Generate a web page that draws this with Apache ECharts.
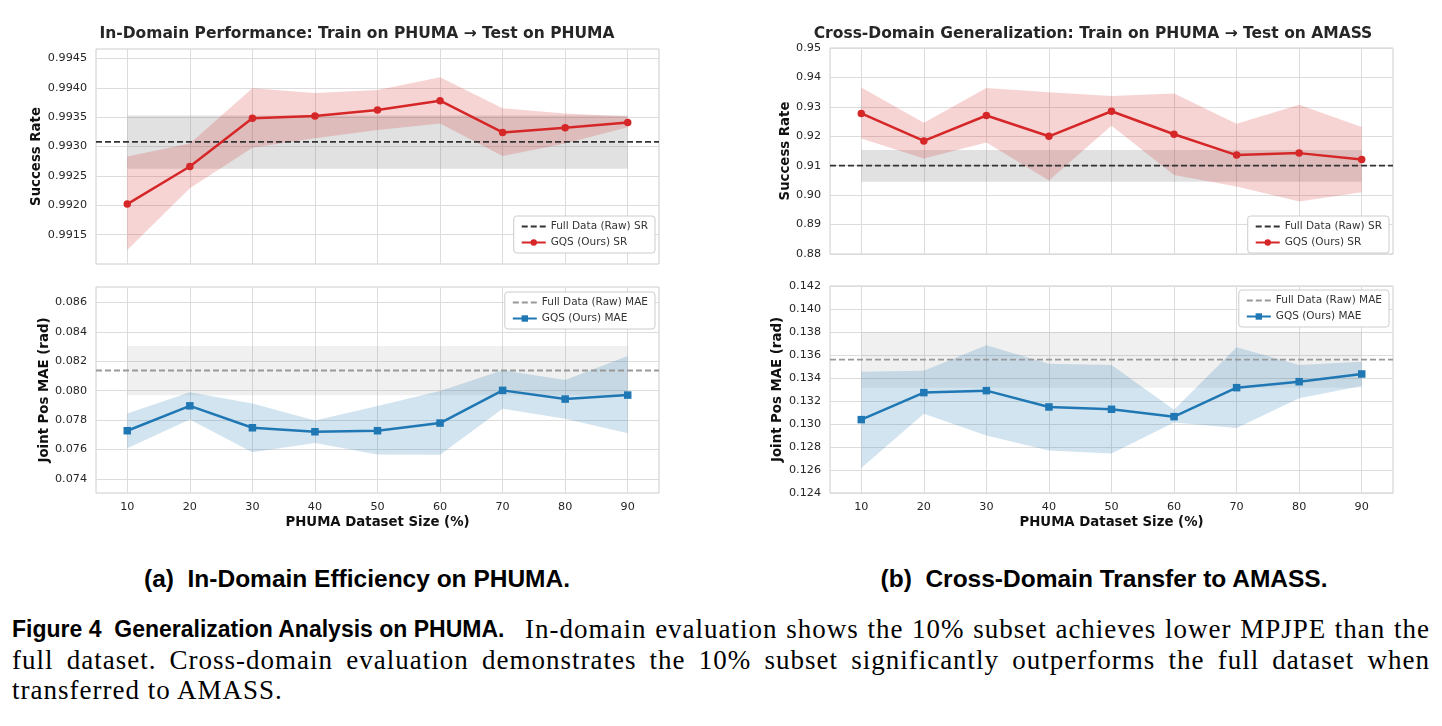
<!DOCTYPE html>
<html>
<head>
<meta charset="utf-8">
<script src="https://cdn.jsdelivr.net/npm/echarts@6/dist/echarts.min.js"></script>
<style>
body { margin: 0; background: #fff; width: 1442px; height: 726px; overflow: hidden; position: relative; }
#chart { position: absolute; left: 0; top: 0; width: 1442px; height: 545px; }
.sub { position: absolute; top: 565px; transform: translateX(-50%); white-space: nowrap;
       font-family: "Liberation Sans", sans-serif; font-weight: bold; font-size: 24.5px; color: #000; }
.cap { position: absolute; left: 12px; width: 1418px; top: 614px; color: #000;
       font-family: "Liberation Serif", serif; font-size: 27px; letter-spacing: 1px; }
.cap > div { height: 30.5px; line-height: 30.5px; white-space: nowrap; }
.cap .j { text-align: justify; text-align-last: justify; }
.cap .l1 { display: flex; }
.cap .lead { flex: none; width: 513px; font-family: "Liberation Sans", sans-serif; font-weight: bold;
             font-size: 23px; letter-spacing: 0; }
.cap .rest { flex: 1; text-align: justify; text-align-last: justify; }
</style>
</head>
<body>
<div id="chart"></div>
<div class="sub" style="left:357px">(a)&nbsp; In-Domain Efficiency on PHUMA.</div>
<div class="sub" style="left:1104px">(b)&nbsp; Cross-Domain Transfer to AMASS.</div>
<div class="cap">
    <div class="l1"><span class="lead">Figure 4&nbsp; Generalization Analysis on PHUMA.</span><span class="rest">In-domain evaluation shows the 10% subset achieves lower MPJPE than the</span></div>
    <div class="j">full dataset. Cross-domain evaluation demonstrates the 10% subset significantly outperforms the full dataset when</div>
    <div>transferred to AMASS.</div>
</div>
<script>
// dataset sizes (%)
const sizes = [10, 20, 30, 40, 50, 60, 70, 80, 90];

// (a) in-domain, success rate
const inSrMean = [0.99202, 0.99266, 0.99348, 0.99352, 0.99362, 0.99378, 0.99324, 0.99332, 0.99341];
const inSrHigh = [0.99283, 0.99305, 0.99399, 0.99391, 0.99396, 0.99418, 0.99365, 0.99356, 0.99351];
const inSrLow = [0.99124, 0.99229, 0.99298, 0.99314, 0.99328, 0.99339, 0.99284, 0.99305, 0.99333];
const inSrRaw = 0.99308;
const inSrRawBand = [0.99262, 0.99353];

// (a) in-domain, joint pos MAE
const inMaeMean = [0.07728, 0.07897, 0.07748, 0.07721, 0.07728, 0.07780, 0.08002, 0.07943, 0.07970];
const inMaeHigh = [0.07845, 0.07989, 0.07913, 0.07798, 0.07895, 0.07998, 0.08138, 0.08072, 0.08236];
const inMaeLow = [0.07609, 0.07805, 0.07582, 0.07644, 0.07566, 0.07564, 0.07877, 0.07809, 0.07710];
const inMaeRaw = 0.08137;
const inMaeRawBand = [0.07968, 0.08304];

// (b) cross-domain, success rate
const crSrMean = [0.92775, 0.91842, 0.92707, 0.92000, 0.92851, 0.92068, 0.91361, 0.91428, 0.91214];
const crSrHigh = [0.93662, 0.92459, 0.93640, 0.93500, 0.93365, 0.93455, 0.92425, 0.93068, 0.92312];
const crSrLow = [0.91921, 0.91248, 0.91786, 0.90496, 0.92357, 0.90688, 0.90293, 0.89786, 0.90101];
const crSrRaw = 0.9100;
const crSrRawBand = [0.90459, 0.91530];

// (b) cross-domain, joint pos MAE
const crMaeMean = [0.13038, 0.13273, 0.13290, 0.13148, 0.13128, 0.13064, 0.13316, 0.13368, 0.13435];
const crMaeHigh = [0.13455, 0.13464, 0.13684, 0.13524, 0.13513, 0.13125, 0.13667, 0.13513, 0.13542];
const crMaeLow = [0.12617, 0.13090, 0.12901, 0.12770, 0.12744, 0.13012, 0.12965, 0.13223, 0.13330];
const crMaeRaw = 0.13559;
const crMaeRawBand = [0.13316, 0.13800];

// tick labels
const inSrTicks = [0.9915, 0.9920, 0.9925, 0.9930, 0.9935, 0.9940, 0.9945];
const inMaeTicks = [0.074, 0.076, 0.078, 0.080, 0.082, 0.084, 0.086];
const crSrTicks = [0.88, 0.89, 0.90, 0.91, 0.92, 0.93, 0.94, 0.95];
const crMaeTicks = [0.124, 0.126, 0.128, 0.130, 0.132, 0.134, 0.136, 0.138, 0.140, 0.142];

const RED = '#d62728';
const BLUE = '#1f77b4';
const FONT = 'DejaVu Sans';
const xMin = 5, xMax = 95;

const myChart = echarts.init(document.getElementById('chart'));

const grids = [
    {left: 96, top: 49, width: 563, height: 215},
    {left: 96, top: 287, width: 563, height: 206},
    {left: 830, top: 48, width: 563, height: 206},
    {left: 830, top: 286, width: 563, height: 207}
];

function xAxis(gi, showLabel) {
    return {
        type: 'value', gridIndex: gi, min: xMin, max: xMax,
        axisLine: {show: false},
        axisTick: {show: false, customValues: sizes},
        axisLabel: {show: showLabel, customValues: sizes, color: '#262626', fontSize: 11.2, fontFamily: FONT, margin: 9},
        splitLine: {show: true, lineStyle: {color: '#dcdcdc', width: 1}},
        name: showLabel ? 'PHUMA Dataset Size (%)' : '',
        nameLocation: 'middle', nameGap: 23,
        nameTextStyle: {fontSize: 13.3, fontWeight: 'bold', color: '#111', fontFamily: FONT}
    };
}

function yAxis(gi, min, max, ticks, digits, name, gap) {
    return {
        type: 'value', gridIndex: gi, min: min, max: max,
        axisLine: {show: false},
        axisTick: {show: false, customValues: ticks},
        axisLabel: {
            customValues: ticks, color: '#262626', fontSize: 11.2, fontFamily: FONT, margin: 9,
            formatter: function (v) { return v.toFixed(digits); }
        },
        splitLine: {show: true, lineStyle: {color: '#dcdcdc', width: 1}},
        name: name, nameLocation: 'middle', nameRotate: 90, nameGap: gap,
        nameTextStyle: {fontSize: 13.3, fontWeight: 'bold', color: '#111', fontFamily: FONT}
    };
}

// filled band between low and high through the axis scales
function band(gi, xs, low, high, color, z) {
    return {
        type: 'custom', xAxisIndex: gi, yAxisIndex: gi, silent: true, z: z,
        data: [[xs[0], low[0]]],
        renderItem: function (params, api) {
            let pts = [];
            for (let i = 0; i < xs.length; i++) pts.push(api.coord([xs[i], high[i]]));
            for (let i = xs.length - 1; i >= 0; i--) pts.push(api.coord([xs[i], low[i]]));
            return {type: 'polygon', shape: {points: pts}, style: {fill: color}};
        }
    };
}

function rawLine(gi, name, value, color) {
    return {
        type: 'line', name: name, xAxisIndex: gi, yAxisIndex: gi, z: 3,
        data: [[xMin, value], [xMax, value]],
        symbol: 'none', silent: true,
        lineStyle: {color: color, width: 1.8, type: [6, 3]},
        itemStyle: {color: color}
    };
}

function meanLine(gi, name, values, color, symbol) {
    return {
        type: 'line', name: name, xAxisIndex: gi, yAxisIndex: gi, z: 4,
        data: sizes.map((x, i) => [x, values[i]]),
        symbol: symbol, symbolSize: 7.5, showSymbol: true,
        lineStyle: {color: color, width: 2.5},
        itemStyle: {color: color}
    };
}

function legend(rawName, oursName, right, top) {
    return {
        data: [{name: rawName, itemStyle: {opacity: 0}}, {name: oursName}],
        orient: 'vertical', right: right, top: top,
        backgroundColor: '#fff', borderColor: '#cccccc', borderWidth: 1, borderRadius: 3,
        padding: [5, 7, 5, 7], itemGap: 5, itemWidth: 24, itemHeight: 8,
        textStyle: {fontSize: 10.5, color: '#333', fontFamily: FONT}
    };
}

const ends = [sizes[0], sizes[sizes.length - 1]];

const option = {
    backgroundColor: '#fff',
    animation: false,
    title: [
        {text: 'In-Domain Performance: Train on PHUMA \u2192 Test on PHUMA', left: 357, top: 26, textAlign: 'center', padding: 0,
            textStyle: {fontSize: 15.5, fontWeight: 'bold', color: '#262626', fontFamily: FONT}},
        {text: 'Cross-Domain Generalization: Train on PHUMA \u2192 Test on AMASS', left: 1093, top: 26, textAlign: 'center', padding: 0,
            textStyle: {fontSize: 15.5, fontWeight: 'bold', color: '#262626', fontFamily: FONT}}
    ],
    grid: grids.map(g => Object.assign({
        show: true, backgroundColor: '#fff', borderColor: '#cccccc', borderWidth: 1,
        containLabel: false, outerBoundsMode: 'none'
    }, g)),
    xAxis: [xAxis(0, false), xAxis(1, true), xAxis(2, false), xAxis(3, true)],
    yAxis: [
        yAxis(0, 0.99100, 0.99466, inSrTicks, 4, 'Success Rate', 53),
        yAxis(1, 0.07305, 0.08704, inMaeTicks, 3, 'Joint Pos MAE (rad)', 43),
        yAxis(2, 0.88, 0.95, crSrTicks, 2, 'Success Rate', 37),
        yAxis(3, 0.124, 0.142, crMaeTicks, 3, 'Joint Pos MAE (rad)', 46)
    ],
    legend: [
        legend('Full Data (Raw) SR', 'GQS (Ours) SR', 1442 - 655, 216),
        legend('Full Data (Raw) MAE', 'GQS (Ours) MAE', 1442 - 655, 292),
        legend('Full Data (Raw) SR', 'GQS (Ours) SR', 1442 - 1389, 216),
        legend('Full Data (Raw) MAE', 'GQS (Ours) MAE', 1442 - 1389, 290)
    ],
    series: [
        band(0, ends, [inSrRawBand[0], inSrRawBand[0]], [inSrRawBand[1], inSrRawBand[1]], 'rgba(128,128,128,0.24)', 1),
        band(0, sizes, inSrLow, inSrHigh, 'rgba(214,39,40,0.2)', 2),
        rawLine(0, 'Full Data (Raw) SR', inSrRaw, '#333333'),
        meanLine(0, 'GQS (Ours) SR', inSrMean, RED, 'circle'),

        band(1, ends, [inMaeRawBand[0], inMaeRawBand[0]], [inMaeRawBand[1], inMaeRawBand[1]], 'rgba(128,128,128,0.12)', 1),
        band(1, sizes, inMaeLow, inMaeHigh, 'rgba(31,119,180,0.2)', 2),
        rawLine(1, 'Full Data (Raw) MAE', inMaeRaw, '#999999'),
        meanLine(1, 'GQS (Ours) MAE', inMaeMean, BLUE, 'rect'),

        band(2, ends, [crSrRawBand[0], crSrRawBand[0]], [crSrRawBand[1], crSrRawBand[1]], 'rgba(128,128,128,0.24)', 1),
        band(2, sizes, crSrLow, crSrHigh, 'rgba(214,39,40,0.2)', 2),
        rawLine(2, 'Full Data (Raw) SR', crSrRaw, '#333333'),
        meanLine(2, 'GQS (Ours) SR', crSrMean, RED, 'circle'),

        band(3, ends, [crMaeRawBand[0], crMaeRawBand[0]], [crMaeRawBand[1], crMaeRawBand[1]], 'rgba(128,128,128,0.12)', 1),
        band(3, sizes, crMaeLow, crMaeHigh, 'rgba(31,119,180,0.2)', 2),
        rawLine(3, 'Full Data (Raw) MAE', crMaeRaw, '#999999'),
        meanLine(3, 'GQS (Ours) MAE', crMaeMean, BLUE, 'rect')
    ]
};

myChart.setOption(option);
</script>
</body>
</html>
